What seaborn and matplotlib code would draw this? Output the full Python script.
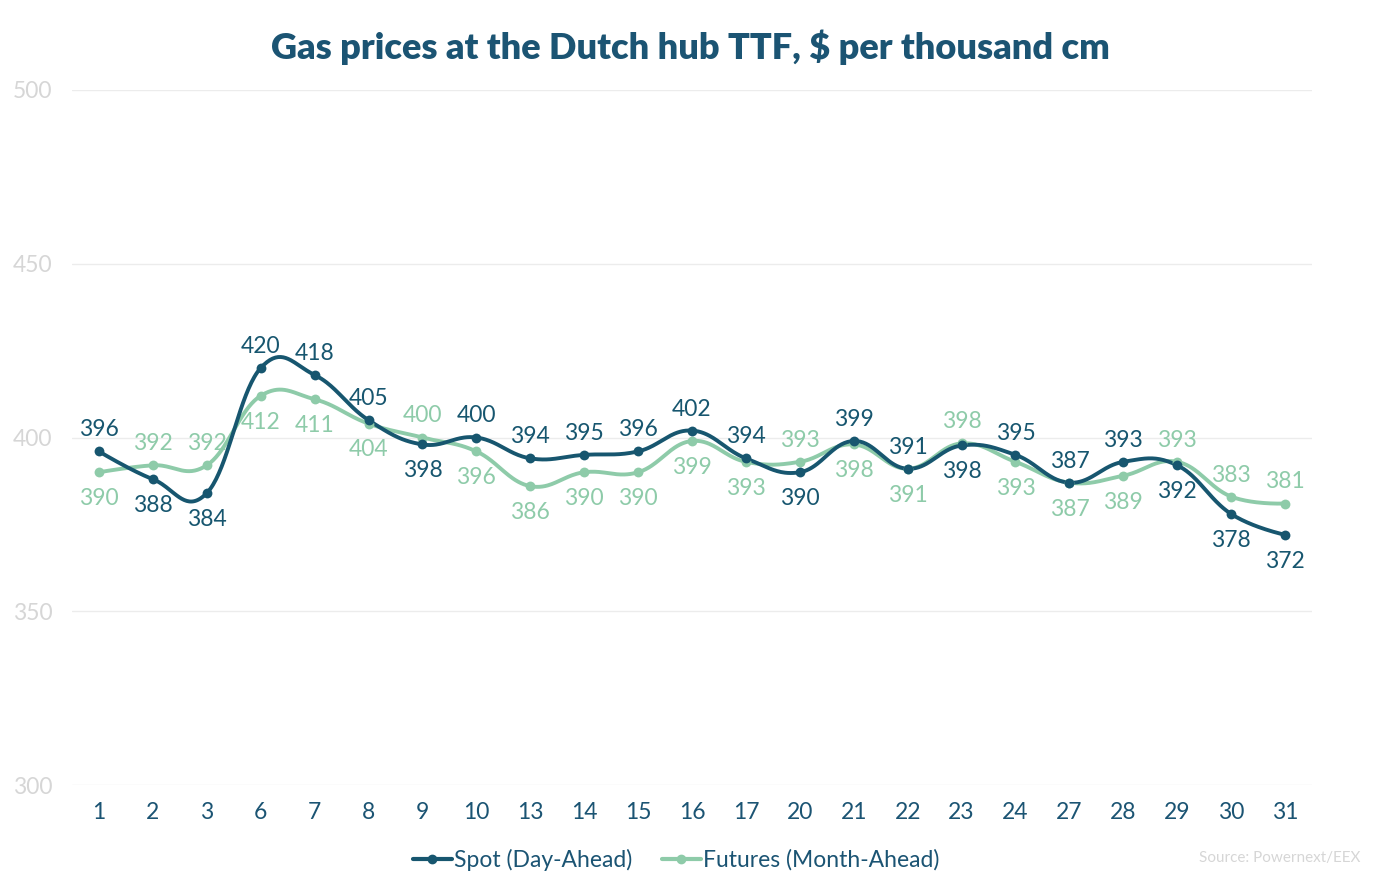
import numpy as np
import pandas as pd
import matplotlib
matplotlib.use("Agg")
import matplotlib.pyplot as plt
from matplotlib.lines import Line2D
import seaborn as sns

days = ["1", "2", "3", "6", "7", "8", "9", "10", "13", "14", "15", "16",
        "17", "20", "21", "22", "23", "24", "27", "28", "29", "30", "31"]
spot = [396, 388, 384, 420, 418, 405, 398, 400, 394, 395, 396, 402,
        394, 390, 399, 391, 397.7, 395, 387, 393, 392, 378, 372]
futures = [390, 392, 392, 412, 411, 404, 400, 396, 386, 390, 390, 399,
           393, 393, 398, 391, 398.3, 393, 387, 389, 393, 383, 381]
y_ticks = [300, 350, 400, 450, 500]

title = "Gas prices at the Dutch hub TTF, $ per thousand cm"
series_names = ["Spot (Day-Ahead)", "Futures (Month-Ahead)"]
source = "Source: Powernext/EEX"

SPOT_C = "#17566f"
FUT_C = "#8ecba9"
TXT_C = "#1b5473"
GREY = "#d6d6d6"

sns.set_theme(style="white")
plt.rcParams["font.family"] = ["Lato", "DejaVu Sans"]


def spline(y, k=0.4, n=40):
    y = np.asarray(y, float)
    x = np.arange(len(y), dtype=float)
    m = np.zeros_like(y)
    m[1:-1] = (y[2:] - y[:-2]) / 2.0
    xs, ys = [], []
    for i in range(len(y) - 1):
        a = 0.0 if i == 0 else k
        b = 0.0 if i == len(y) - 2 else k
        p0 = np.array([x[i], y[i]])
        p1 = np.array([x[i] + a, y[i] + a * m[i]])
        p2 = np.array([x[i + 1] - b, y[i + 1] - b * m[i + 1]])
        p3 = np.array([x[i + 1], y[i + 1]])
        t = np.linspace(0, 1, n)[:, None]
        pts = ((1 - t) ** 3) * p0 + 3 * ((1 - t) ** 2) * t * p1 + 3 * (1 - t) * t ** 2 * p2 + t ** 3 * p3
        if i > 0:
            pts = pts[1:]
        xs.append(pts[:, 0])
        ys.append(pts[:, 1])
    return np.concatenate(xs), np.concatenate(ys)


fig = plt.figure(figsize=(13.73, 8.81), dpi=100)
ax = fig.add_axes([72 / 1373, 1 - 785 / 881, (1312 - 72) / 1373, (785 - 90) / 881])

pos = np.arange(len(days))
for vals, col in [(futures, FUT_C), (spot, SPOT_C)]:
    sx, sy = spline(vals)
    sns.lineplot(x=sx, y=sy, sort=False, color=col, lw=2.8, ax=ax, legend=False)
    sns.scatterplot(x=pos, y=vals, color=col, s=50, edgecolor=col, linewidth=0, ax=ax, legend=False, zorder=3)

FS = 16.5
for i in range(len(days)):
    s_up = spot[i] >= futures[i]
    ax.annotate(f"{round(spot[i])}", (pos[i], spot[i]), xytext=(0, 15.5 if s_up else -19),
                textcoords="offset points", ha="center", va="center", fontsize=FS, color=SPOT_C)
    ax.annotate(f"{round(futures[i])}", (pos[i], futures[i]), xytext=(0, -19 if s_up else 15.5),
                textcoords="offset points", ha="center", va="center", fontsize=FS, color=FUT_C)

ax.set_xlim(-0.5, len(days) - 0.5)
ax.set_ylim(300, 500)
ax.set_yticks(y_ticks)
ax.set_yticklabels([str(v) for v in y_ticks], color=GREY, fontsize=FS)
ax.set_xticks(pos)
ax.set_xticklabels(days, color=TXT_C, fontsize=FS)
ax.tick_params(axis="y", length=0, pad=14)
ax.tick_params(axis="x", length=0, pad=12)
ax.grid(axis="y", color="#ececec", lw=1)
ax.grid(axis="x", visible=False)
for s in ax.spines.values():
    s.set_visible(False)
ax.set_xlabel("")
ax.set_ylabel("")

fig.text(690 / 1373, 1 - 47 / 881, title, ha="center", va="center", fontsize=26,
         fontweight="heavy", color=TXT_C)

handles = [Line2D([], [], color=SPOT_C, lw=3, marker="o", markersize=6),
           Line2D([], [], color=FUT_C, lw=3, marker="o", markersize=6)]
leg = fig.legend(handles, series_names, loc="center", bbox_to_anchor=(676 / 1373, 1 - 860 / 881),
                 ncol=2, frameon=False, fontsize=FS, handlelength=1.7, handletextpad=0.1,
                 columnspacing=1.3)
for t in leg.get_texts():
    t.set_color(TXT_C)

fig.text(1360 / 1373, 1 - 858 / 881, source, ha="right", va="center", fontsize=11, color=GREY)

fig.savefig("out.png", dpi=100)
